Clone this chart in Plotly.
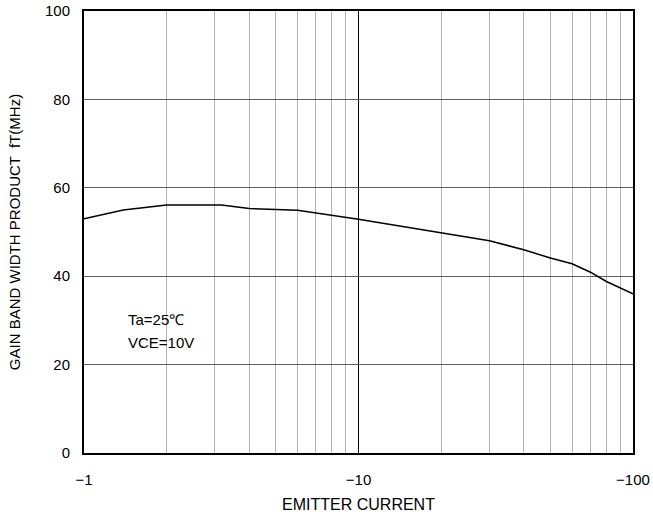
import plotly.graph_objects as go

# Emitter current (mA, negative) and gain band width product fT (MHz)
emitter_current = [-1, -1.39, -2, -3.17, -4, -4.76, -6, -10, -20, -21.5, -25.5,
                   -30, -40, -50, -60, -65.6, -70, -80, -100]
ft_mhz = [53.0, 55.0, 56.1, 56.1, 55.3, 55.1, 54.9, 52.9, 49.8, 49.4, 48.8,
          48.0, 46.0, 44.1, 42.8, 41.7, 40.9, 38.8, 36.0]

x_tickvals = [1, 10, 100]
x_ticktext = ["\u22121", "\u221210", "\u2212100"]
y_tickvals = [0, 20, 40, 60, 80, 100]

FONT = "Liberation Sans, Arial, sans-serif"

fig = go.Figure()
fig.add_trace(go.Scatter(
    x=[-v for v in emitter_current], y=ft_mhz, mode="lines",
    line=dict(color="black", width=1.5), showlegend=False, hoverinfo="skip"))

fig.update_layout(
    width=653, height=517,
    margin=dict(l=84, r=20, t=11, b=63.5),
    paper_bgcolor="white", plot_bgcolor="white",
    font=dict(family=FONT, size=15, color="black"),
    xaxis=dict(
        type="log", range=[0, 2], automargin=False,
        tickvals=x_tickvals, ticktext=x_ticktext,
        ticklabeloverflow="allow",
        showgrid=True, gridcolor="black", gridwidth=1.2,
        minor=dict(dtick="D1", showgrid=True, gridcolor="#b4b4b4", gridwidth=1, ticks=""),
        ticks="outside", ticklen=12, tickcolor="rgba(0,0,0,0)",
        showline=True, linecolor="black", linewidth=2, mirror=True,
        zeroline=False,
        title=dict(text="EMITTER CURRENT", font=dict(size=16), standoff=12),
    ),
    yaxis=dict(
        range=[0, 100], tickvals=y_tickvals, automargin=False,
        ticklabeloverflow="allow",
        showgrid=True, gridcolor="#606060", gridwidth=1,
        ticks="outside", ticklen=9, tickcolor="rgba(0,0,0,0)",
        showline=True, linecolor="black", linewidth=2, mirror=True,
        zeroline=False,
        title=dict(text="GAIN BAND WIDTH PRODUCT  fT(MHz)", font=dict(size=15), standoff=21),
    ),
)

fig.add_annotation(x=0.076, y=30.2, xref="paper", yref="y", text="Ta=25\u2103",
                   showarrow=False, xanchor="left", yanchor="middle", font=dict(size=15))
fig.add_annotation(x=0.076, y=25.1, xref="paper", yref="y", text="VCE=10V",
                   showarrow=False, xanchor="left", yanchor="middle", font=dict(size=15))

fig.write_html("out.html", config={"displayModeBar": False},
               post_script="document.body.style.margin='0';")
